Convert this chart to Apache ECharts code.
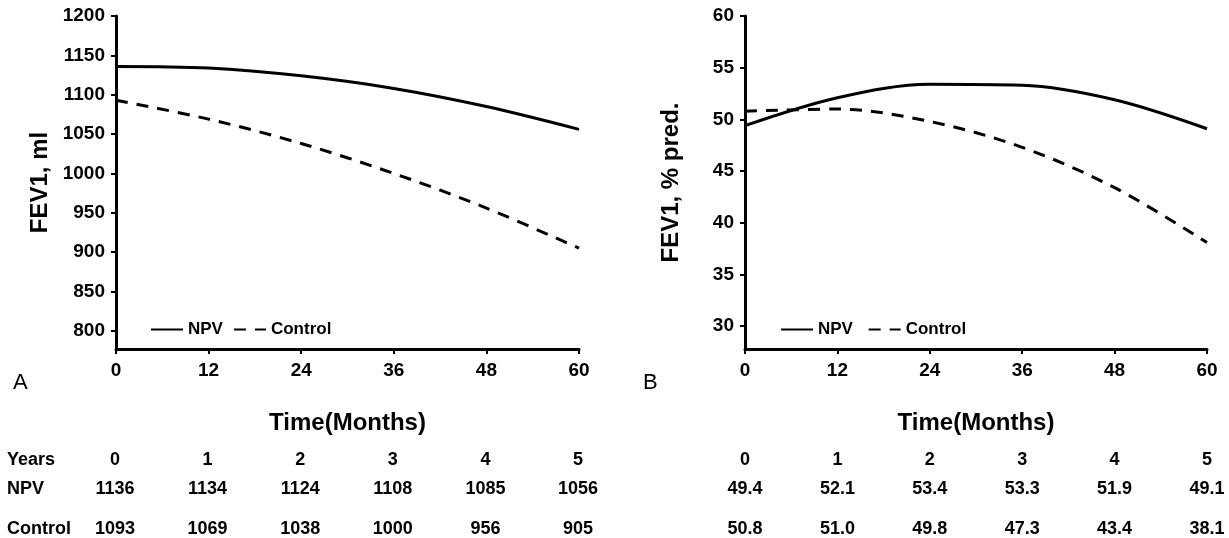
<!DOCTYPE html>
<html lang="en">
<head>
<meta charset="UTF-8" />
<title>FEV1 NPV vs Control</title>
<script src="https://cdn.jsdelivr.net/npm/echarts@6/dist/echarts.min.js"></script>
<style>
  html, body { margin: 0; padding: 0; background: #fff; }
  #main { width: 1229px; height: 538px; }
</style>
</head>
<body>
<div id="main"></div>
<script type="text/javascript">
var months = [0, 12, 24, 36, 48, 60];
var years = ['0', '1', '2', '3', '4', '5'];
var npvMl = [1136, 1134, 1124, 1108, 1085, 1056];
var controlMl = [1093, 1069, 1038, 1000, 956, 905];
var npvPct = [49.4, 52.1, 53.4, 53.3, 51.9, 49.1];
var controlPct = [50.8, 51.0, 49.8, 47.3, 43.4, 38.1];
var mlTicks = [800, 850, 900, 950, 1000, 1050, 1100, 1150, 1200];
var pctTicks = [30, 35, 40, 45, 50, 55, 60];
var rowNames = ['Years', 'NPV', 'Control'];

var FONT = '"Liberation Sans", Arial, sans-serif';

function pairs(xs, ys) {
  var out = [];
  for (var i = 0; i < xs.length; i++) out.push([xs[i], ys[i]]);
  return out;
}

function xAxisOf(idx) {
  return {
    type: 'value', gridIndex: idx, min: 0, max: 60, interval: 12,
    name: 'Time(Months)', nameLocation: 'middle', nameGap: 62,
    nameTextStyle: { color: '#000', fontFamily: FONT, fontWeight: 'bold', fontSize: 24 },
    axisLine: { lineStyle: { color: '#000', width: 3 } },
    axisTick: { length: 5, lineStyle: { color: '#000', width: 2 } },
    axisLabel: { color: '#000', fontFamily: FONT, fontWeight: 'bold', fontSize: 19, margin: 12 },
    splitLine: { show: false }
  };
}

function yAxisOf(idx, min, max, ticks, title, gap) {
  return {
    type: 'value', gridIndex: idx, min: min, max: max,
    name: title, nameLocation: 'middle', nameGap: gap, nameRotate: 90,
    nameTextStyle: { color: '#000', fontFamily: FONT, fontWeight: 'bold', fontSize: 24 },
    axisLine: { show: true, lineStyle: { color: '#000', width: 3 } },
    axisTick: { show: true, length: 5, customValues: ticks, lineStyle: { color: '#000', width: 2 } },
    axisLabel: {
      color: '#000', fontFamily: FONT, fontWeight: 'bold', fontSize: 19, margin: 11,
      customValues: ticks, formatter: function (v) { return String(v); }
    },
    splitLine: { show: false }
  };
}

function lineSeries(name, idx, data, dashed) {
  return {
    name: name, type: 'line', xAxisIndex: idx, yAxisIndex: idx,
    data: data, smooth: 0.33, symbol: 'none', showSymbol: false,
    lineStyle: { color: '#000', width: 3, type: dashed ? [12, 9] : 'solid' },
    itemStyle: { color: '#000' }
  };
}

function legendOf(idx, left) {
  return {
    left: left, top: 316, itemWidth: 32, itemHeight: 14, itemGap: 10,
    data: idx === 0 ? ['NPV', 'Control'] : ['NPV ', 'Control '],
    itemStyle: { opacity: 0 },
    textStyle: { color: '#000', fontFamily: FONT, fontWeight: 'bold', fontSize: 17 }
  };
}

var myChart = echarts.init(document.getElementById('main'));
var option = {
  backgroundColor: '#fff',
  animation: false,
  grid: [
    { left: 116, right: 650, top: 16, bottom: 189 },
    { left: 745, right: 22, top: 16, bottom: 189 }
  ],
  xAxis: [xAxisOf(0), xAxisOf(1)],
  yAxis: [
    yAxisOf(0, 777, 1200, mlTicks, 'FEV1, ml', 64),
    yAxisOf(1, 27.8, 60, pctTicks, 'FEV1, % pred.', 62)
  ],
  legend: [legendOf(0, 145), legendOf(1, 775)],
  series: [
    lineSeries('NPV', 0, pairs(months, npvMl), false),
    lineSeries('Control', 0, pairs(months, controlMl), true),
    lineSeries('NPV ', 1, pairs(months, npvPct), false),
    lineSeries('Control ', 1, pairs(months, controlPct), true)
  ]
};
myChart.setOption(option);

// panel letters and the table under the charts
var rowY = [460, 489, 529];
var els = [
  { type: 'text', left: 13, top: 372, style: { text: 'A', font: '22px ' + FONT, fill: '#000' } },
  { type: 'text', left: 643, top: 372, style: { text: 'B', font: '22px ' + FONT, fill: '#000' } }
];
var tableFont = 'bold 18px ' + FONT;
rowNames.forEach(function (name, r) {
  els.push({ type: 'text', x: 7, y: rowY[r], style: { text: name, font: tableFont, fill: '#000', verticalAlign: 'middle' } });
});
var leftRows = [years, npvMl, controlMl];
var rightRows = [years, npvPct.map(function (v) { return v.toFixed(1); }), controlPct.map(function (v) { return v.toFixed(1); })];
months.forEach(function (m, i) {
  var xl = myChart.convertToPixel({ xAxisIndex: 0 }, m) - 1;
  var xr = myChart.convertToPixel({ xAxisIndex: 1 }, m);
  for (var r = 0; r < 3; r++) {
    els.push({ type: 'text', x: xl, y: rowY[r], style: { text: String(leftRows[r][i]), font: tableFont, fill: '#000', align: 'center', verticalAlign: 'middle' } });
    els.push({ type: 'text', x: xr, y: rowY[r], style: { text: String(rightRows[r][i]), font: tableFont, fill: '#000', align: 'center', verticalAlign: 'middle' } });
  }
});
myChart.setOption({ graphic: els });
</script>
</body>
</html>
